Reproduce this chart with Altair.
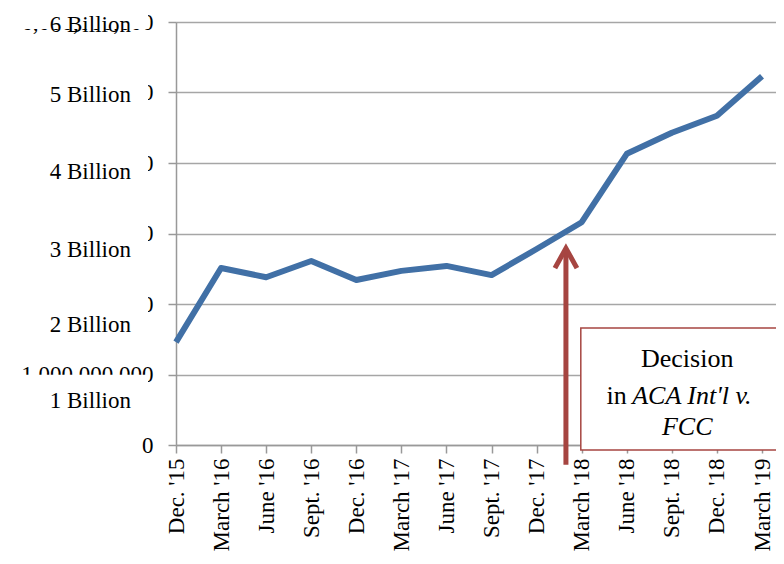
import json
import altair as alt
import pandas as pd

# ---- data -------------------------------------------------------------
quarters = ["Dec. '15", "March '16", "June '16", "Sept. '16", "Dec. '16",
            "March '17", "June '17", "Sept. '17", "Dec. '17", "March '18",
            "June '18", "Sept. '18", "Dec. '18", "March '19"]
values_billion = [1.46, 2.51, 2.38, 2.61, 2.34, 2.47, 2.54, 2.41, 2.78,
                  3.16, 4.13, 4.43, 4.67, 5.23]
y_ticks = [0, 1, 2, 3, 4, 5, 6]

billion_labels = ["6 Billion", "5 Billion", "4 Billion", "3 Billion",
                  "2 Billion", "1 Billion"]
billion_label_y = [5.96, 4.97, 3.87, 2.77, 1.70, 0.62]
cover_top = [6.4, 5.2, 4.18, 3.16, 2.17, 0.995]
cover_bottom = [5.90, 4.75, 3.69, 2.60, 1.49, 0.35]

decision_x = 8.65
arrow_bottom = -0.28
arrow_top = 2.76
arrow_tip = 2.79

box_x = [8.98]
box_x2 = [14.5]
box_y = [1.66]
box_y2 = [-0.07]

FONT = "Liberation Serif"
LINE_COLOR = "#4170A6"
RED = "#A64541"
GRID = "#A6A6A6"

# ---- tables -----------------------------------------------------------
line_df = pd.DataFrame({"idx": list(range(len(quarters))),
                        "quarter": quarters, "value": values_billion})
cover_df = pd.DataFrame({"x": [-4.0] * len(cover_top),
                         "x2": [-0.62] * len(cover_top),
                         "y": cover_top, "y2": cover_bottom})
blabel_df = pd.DataFrame({"x": [-1.0] * len(billion_labels),
                          "y": billion_label_y, "text": billion_labels})
arrow_df = pd.DataFrame({"x": [decision_x], "y": [arrow_bottom],
                         "y2": [arrow_top], "tip": [arrow_tip]})
box_df = pd.DataFrame({"x": box_x, "x2": box_x2, "y": box_y, "y2": box_y2})
txt_center = pd.DataFrame({"x": [11.34], "y": [1.22], "text": ["Decision"]})
txt_fcc = pd.DataFrame({"x": [11.34], "y": [0.255], "text": ["FCC"]})
txt_in = pd.DataFrame({"x": [10.0], "y": [0.695], "text": ["in"]})
txt_aca = pd.DataFrame({"x": [10.12], "y": [0.695], "text": ["ACA Int'l v."]})

xscale = alt.Scale(domain=[0, 13.31], nice=False, zero=False)
yscale = alt.Scale(domain=[0, 6], nice=False, zero=False)

label_expr = json.dumps(quarters) + "[datum.value]"

x_axis = alt.Axis(values=list(range(len(quarters))), labelExpr=label_expr,
                  labelAngle=270, labelAlign="right", labelBaseline="middle",
                  labelPadding=5, labelFont=FONT, labelFontSize=23,
                  labelColor="black", tickSize=8, tickColor="#999999",
                  tickWidth=1.5, domainColor="#999999", domainWidth=1.5,
                  grid=False, title=None, zindex=0, labelOverlap=False,
                  labelFlush=False)
y_axis = alt.Axis(values=y_ticks,
                  labelExpr="datum.value == 0 ? '0' : format(datum.value * 1000000000, ',')",
                  labelFont=FONT, labelFontSize=23, labelColor="black",
                  labelPadding=15, tickSize=8, tickColor="#999999",
                  tickWidth=1.5, domainColor="#999999", domainWidth=1.5,
                  grid=True, gridColor=GRID, gridWidth=1.5, title=None,
                  zindex=0, labelOverlap=False, labelFlush=False)

line = alt.Chart(line_df).mark_line(
    color=LINE_COLOR, strokeWidth=6, strokeJoin="round", strokeCap="butt"
).encode(
    x=alt.X("idx:Q", scale=xscale, axis=x_axis),
    y=alt.Y("value:Q", scale=yscale, axis=y_axis),
)

cover = alt.Chart(cover_df).mark_rect(color="white", clip=False).encode(
    x="x:Q", x2="x2", y="y:Q", y2="y2")

blabels = alt.Chart(blabel_df).mark_text(
    font=FONT, fontSize=23, align="right", baseline="middle", color="black"
).encode(x="x:Q", y="y:Q", text="text:N")

box = alt.Chart(box_df).mark_rect(
    fill="white", stroke=RED, strokeWidth=1.5
).encode(x="x:Q", x2="x2", y="y:Q", y2="y2")

shaft = alt.Chart(arrow_df).mark_rule(color=RED, strokeWidth=5).encode(
    x="x:Q", y="y:Q", y2="y2")
head = alt.Chart(arrow_df).mark_point(
    shape="M-1,1.8L0,0L1,1.8", size=484, filled=False, strokeWidth=5,
    color=RED, opacity=1, strokeJoin="miter"
).encode(x="x:Q", y="tip:Q")

t1 = alt.Chart(txt_center).mark_text(
    font=FONT, fontSize=26, align="center", baseline="middle", color="black"
).encode(x="x:Q", y="y:Q", text="text:N")
t2 = alt.Chart(txt_fcc).mark_text(
    font=FONT, fontSize=26, fontStyle="italic", align="center",
    baseline="middle", color="black"
).encode(x="x:Q", y="y:Q", text="text:N")
t3 = alt.Chart(txt_in).mark_text(
    font=FONT, fontSize=26, align="right", baseline="middle", color="black"
).encode(x="x:Q", y="y:Q", text="text:N")
t4 = alt.Chart(txt_aca).mark_text(
    font=FONT, fontSize=26, fontStyle="italic", align="left",
    baseline="middle", color="black"
).encode(x="x:Q", y="y:Q", text="text:N")

chart = alt.layer(line, cover, blabels, box, shaft, head, t1, t2, t3, t4).properties(
    width=600, height=423,
    autosize=alt.AutoSizeParams(type="none"),
    padding={"left": 168, "top": 14, "right": 0, "bottom": 107},
).configure_view(stroke=None).configure(background="white")

chart.save("out.html", embed_options={"renderer": "svg", "actions": False})
